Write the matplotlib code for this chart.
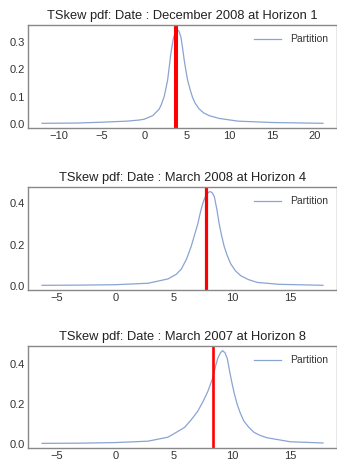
import matplotlib
matplotlib.use("Agg")
import matplotlib.pyplot as plt

plt.rcParams['font.family'] = ['Liberation Sans', 'DejaVu Sans']

titles = ["TSkew pdf: Date : December 2008 at Horizon 1",
          "TSkew pdf: Date : March 2008 at Horizon 4",
          "TSkew pdf: Date : March 2007 at Horizon 8"]

x1 = [-12, -8, -5, -2, -0.6, 0, 1.0, 1.76, 2.0, 2.35, 2.55, 2.75, 2.95, 3.14, 3.41,
      3.55, 3.7, 3.92, 4.1, 4.31, 4.5, 4.7, 4.9, 5.1, 5.4, 5.69, 6.0, 6.47, 7.0,
      7.65, 8.8, 11, 15, 21]
y1 = [0.002, 0.003, 0.006, 0.010, 0.014, 0.017, 0.03, 0.054, 0.07, 0.10, 0.13, 0.16,
      0.21, 0.26, 0.31, 0.325, 0.335, 0.345, 0.338, 0.318, 0.28, 0.234, 0.195, 0.16,
      0.125, 0.096, 0.075, 0.054, 0.04, 0.03, 0.02, 0.01, 0.005, 0.002]

x2 = [-6.3, -3, 0, 2.8, 4.5, 5.2, 5.64, 6.1, 6.49, 6.8, 7.06, 7.3, 7.49, 7.65, 7.8,
      8.0, 8.14, 8.3, 8.48, 8.7, 8.9, 9.1, 9.33, 9.6, 9.89, 10.3, 10.74, 11.4,
      12.17, 14, 17.8]
y2 = [0.002, 0.003, 0.005, 0.012, 0.033, 0.055, 0.08, 0.13, 0.19, 0.25, 0.30, 0.36,
      0.40, 0.425, 0.44, 0.455, 0.457, 0.452, 0.433, 0.37, 0.30, 0.245, 0.19, 0.145,
      0.106, 0.072, 0.049, 0.03, 0.016, 0.007, 0.002]

x3 = [-6.3, -3, 0, 2.8, 4.5, 5.3, 5.93, 6.5, 7.06, 7.5, 7.91, 8.1, 8.33, 8.55, 8.76,
      9.0, 9.19, 9.4, 9.6, 9.8, 10.03, 10.2, 10.45, 10.7, 11.0, 11.4, 11.89, 12.4,
      13.0, 15, 17.8]
y3 = [0.002, 0.003, 0.006, 0.013, 0.033, 0.06, 0.082, 0.12, 0.163, 0.21, 0.26, 0.29,
      0.327, 0.38, 0.425, 0.455, 0.466, 0.455, 0.425, 0.36, 0.294, 0.25, 0.196,
      0.155, 0.115, 0.085, 0.057, 0.042, 0.03, 0.01, 0.004]

red_x = [3.7, 7.8, 8.35]
red_w = [2.9, 2.3, 1.9]

xticks = [[-10, -5, 0, 5, 10, 15, 20], [-5, 0, 5, 10, 15], [-5, 0, 5, 10, 15]]
yticks = [[0.0, 0.1, 0.2, 0.3], [0.0, 0.2, 0.4], [0.0, 0.2, 0.4]]

fig = plt.figure(figsize=(3.37, 4.61), dpi=100)
boxes = [(28, 25, 128), (28, 187, 290), (28, 346, 448)]
W, H = 337, 461
xs = [x1, x2, x3]
ys = [y1, y2, y3]
for i in range(3):
    l, t, b = boxes[i]
    ax = fig.add_axes([l / W, 1 - b / H, 309 / W, (b - t) / H])
    ax.plot(xs[i], ys[i], color='#8aa4d2', lw=0.9, label='Partition')
    ax.axvline(red_x[i], color='#ff0000', lw=red_w[i])
    ax.set_xticks(xticks[i])
    ax.set_yticks(yticks[i])
    ax.set_yticklabels([f"{v:.1f}" for v in yticks[i]])
    ax.tick_params(length=0, labelsize=8, colors='#333333', pad=2.5)
    for s in ax.spines.values():
        s.set_color('#888888')
        s.set_linewidth(1.0)
    ax.set_title(titles[i], fontsize=9.3, color='#222222', pad=4)
    leg = ax.legend(loc='upper right', frameon=False, fontsize=7.5, handlelength=2.6)
    for txt in leg.get_texts():
        txt.set_color('#333333')

fig.savefig("out.png", dpi=100)
